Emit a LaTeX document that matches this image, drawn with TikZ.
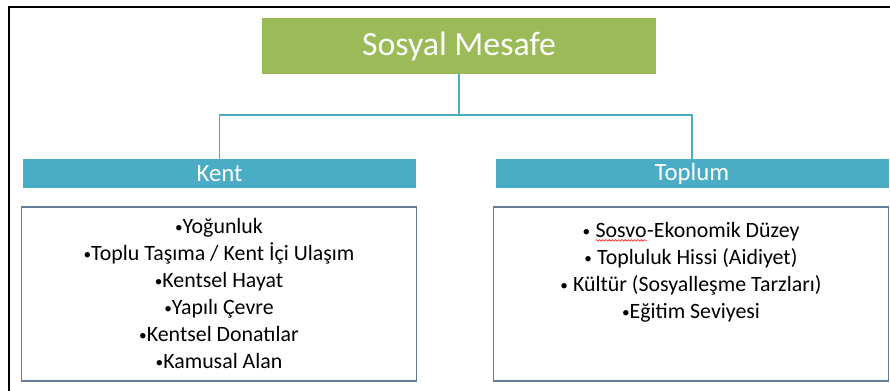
\documentclass[tikz,border=0pt]{standalone}
\usepackage{fontspec}
\setmainfont{Carlito}
\usetikzlibrary{decorations.pathmorphing}
\definecolor{titlegreen}{HTML}{9BBB59}
\definecolor{barteal}{HTML}{4BACC6}
\definecolor{boxedge}{RGB}{100,125,150}
\newcommand{\spellmark}[1]{\tikz[baseline=(w.base)]{\node[inner sep=0pt] (w) {#1};
  \draw[red, line width=0.4pt, decorate, decoration={snake, amplitude=0.6pt, segment length=2.4pt}] ([yshift=-2.2pt]w.base west) -- ([yshift=-2.2pt]w.base east);}}
\newcommand{\bul}{\raisebox{0.12ex}{\scalebox{0.7}{•}}}
\begin{document}
\begin{tikzpicture}[
    x=0.75pt, y=-0.75pt,
    title/.style={rectangle, fill=titlegreen, text=white, minimum width=295.5pt, minimum height=42pt, inner sep=0pt, font=\fontsize{25.4}{30}\selectfont},
    bar/.style={rectangle, fill=barteal, text=white, minimum width=294.75pt, minimum height=21.75pt, inner sep=0pt, font=\fontsize{18.6}{22}\selectfont},
    itembox/.style={rectangle, draw=boxedge, line width=1.1pt, minimum width=296pt, minimum height=130.5pt, inner sep=0pt},
    items/.style={anchor=north, align=center, inner sep=0pt, font=\fontsize{16.4}{20.25}\selectfont},
    link/.style={draw=barteal, line width=1.1pt},
    frame/.style={draw=black, line width=1.9pt}
]
\useasboundingbox (0,0) rectangle (890,391);
\draw[frame] (9,395) -- (9,7) -- (895,7);
\node[title] (title) at (459,46) {Sosyal Mesafe};
\node[bar] (kent) at (219.5,173.5) {Kent};
\node[bar] (toplum) at (692,173.5) {Toplum};
\node[itembox] (kentbox) at (219,294) {};
\node[itembox] (toplumbox) at (691,294) {};
\node[items] (kentlist) at (219,218) {\bul Yoğunluk\\\bul Toplu Taşıma / Kent İçi Ulaşım\\\bul Kentsel Hayat\\\bul Yapılı Çevre\\\bul Kentsel Donatılar\\\bul Kamusal Alan};
\node[items] (toplumlist) at (691,222) {\bul{} \spellmark{Sosvo}-Ekonomik Düzey\\\bul{} Topluluk Hissi (Aidiyet)\\\bul{} Kültür (Sosyalleşme Tarzları)\\\bul Eğitim Seviyesi};
\coordinate (split) at (459,115);
\draw[link] (title) -- (split);
\draw[link] (split) -| (kent);
\draw[link] (split) -| (toplum);
\end{tikzpicture}
\end{document}
